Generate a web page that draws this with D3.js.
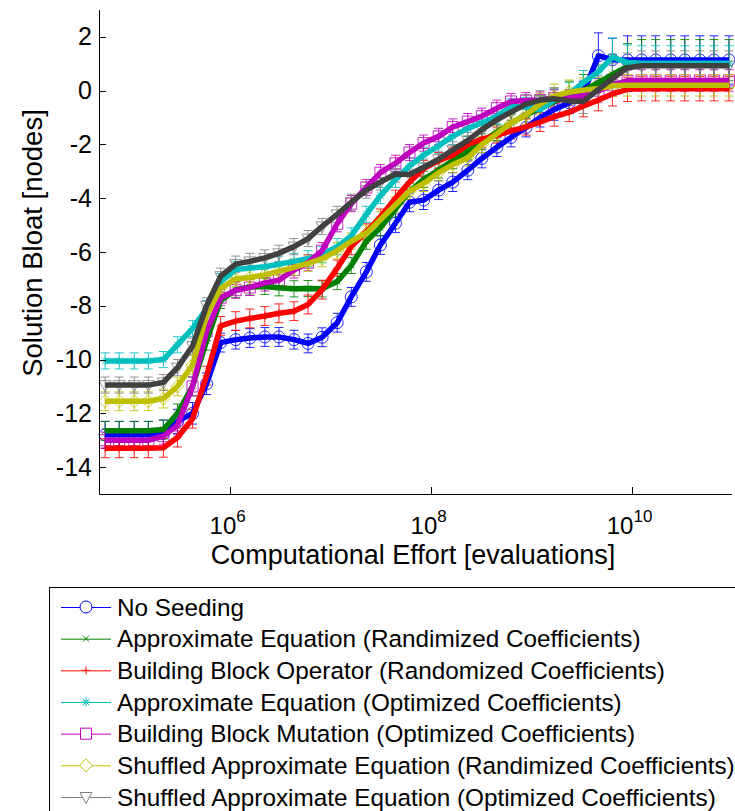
<!DOCTYPE html>
<html>
<head>
<meta charset="utf-8">
<script src="https://cdn.jsdelivr.net/npm/d3@7"></script>
<style>
  html, body { margin: 0; padding: 0; background: #fff; }
  svg { display: block; font-family: "Liberation Sans", Arial, sans-serif; }
</style>
</head>
<body>
<svg id="chart" width="735" height="811"></svg>
<script>
// log10 of the computational effort at each sample
const logEvals = [4.76, 4.90, 5.05, 5.19, 5.34, 5.48, 5.63, 5.77, 5.91, 6.06,
  6.20, 6.35, 6.49, 6.64, 6.78, 6.92, 7.07, 7.21, 7.36, 7.50,
  7.65, 7.79, 7.93, 8.08, 8.22, 8.37, 8.51, 8.66, 8.80, 8.95,
  9.09, 9.23, 9.38, 9.52, 9.67, 9.81, 9.96, 10.10, 10.24, 10.39,
  10.53, 10.68, 10.82, 10.97];

const seriesNames = [
  "No Seeding",
  "Approximate Equation (Randimized Coefficients)",
  "Building Block Operator (Randomized Coefficients)",
  "Approximate Equation (Optimized Coefficients)",
  "Building Block Mutation (Optimized Coefficients)",
  "Shuffled Approximate Equation (Randimized Coefficients)",
  "Shuffled Approximate Equation (Optimized Coefficients)"
];

const noSeeding = [-12.8, -12.8, -12.8, -12.8, -12.75, -12.3, -12.0, -10.9, -9.37, -9.26,
  -9.2, -9.16, -9.16, -9.26, -9.4, -9.17, -8.63, -7.67, -6.74, -5.74,
  -4.93, -4.15, -4.07, -3.7, -3.4, -2.96, -2.52, -2.1, -1.74, -1.37,
  -1.0, -0.7, -0.45, -0.1, 1.3, 1.15, 1.14, 1.14, 1.14, 1.14,
  1.14, 1.14, 1.14, 1.14];
const approxRand = [-12.65, -12.65, -12.65, -12.65, -12.6, -12.0, -11.0, -9.3, -7.8, -7.4,
  -7.3, -7.28, -7.33, -7.37, -7.36, -7.37, -7.1, -6.5, -5.6, -5.1,
  -4.4, -3.75, -3.3, -2.95, -2.6, -2.25, -1.9, -1.55, -1.2, -0.9,
  -0.65, -0.4, -0.2, 0.0, 0.3, 0.6, 0.9, 1.0, 1.0, 1.0,
  1.0, 1.0, 1.0, 1.0];
const bbOperator = [-13.3, -13.3, -13.3, -13.3, -13.28, -12.9, -12.2, -10.6, -8.75, -8.57,
  -8.47, -8.38, -8.28, -8.2, -7.95, -7.4, -6.6, -5.8, -5.25, -4.7,
  -4.0, -3.4, -2.9, -2.6, -2.4, -2.0, -1.8, -1.65, -1.5, -1.35,
  -1.17, -0.97, -0.8, -0.57, -0.35, -0.12, 0.05, 0.07, 0.07, 0.07,
  0.07, 0.07, 0.07, 0.07];
const approxOpt = [-10.05, -10.05, -10.05, -10.05, -10.0, -9.45, -8.85, -8.1, -7.1, -6.65,
  -6.6, -6.55, -6.45, -6.35, -6.25, -6.1, -5.8, -5.4, -4.6, -3.9,
  -3.3, -2.8, -2.4, -2.05, -1.7, -1.4, -1.2, -0.95, -0.6, -0.6,
  -0.7, -0.35, -0.1, 0.3, 0.7, 1.25, 1.05, 1.02, 1.02, 1.02,
  1.02, 1.02, 1.02, 1.02];
const bbMutation = [-13.0, -13.0, -13.0, -13.0, -12.85, -12.45, -11.0, -8.95, -7.7, -7.42,
  -7.32, -7.15, -7.05, -6.67, -6.4, -5.95, -4.95, -4.2, -3.6, -3.05,
  -2.7, -2.3, -1.95, -1.7, -1.35, -1.15, -0.95, -0.65, -0.4, -0.37,
  -0.35, -0.27, -0.26, -0.18, 0.0, 0.2, 0.37, 0.38, 0.38, 0.38,
  0.38, 0.38, 0.38, 0.38];
const shuffledRand = [-11.55, -11.55, -11.55, -11.55, -11.45, -11.0, -10.2, -8.35, -7.35, -7.0,
  -6.95, -6.85, -6.72, -6.57, -6.42, -6.25, -5.95, -5.6, -5.3, -4.8,
  -4.25, -3.75, -3.45, -3.05, -2.75, -2.5, -2.0, -1.6, -1.2, -0.9,
  -0.5, -0.2, -0.05, 0.02, 0.08, 0.18, 0.2, 0.2, 0.2, 0.2,
  0.2, 0.2, 0.2, 0.2];
const shuffledOpt = [-10.95, -10.95, -10.95, -10.95, -10.85, -10.3, -9.5, -8.0, -6.9, -6.45,
  -6.35, -6.22, -6.05, -5.8, -5.5, -5.05, -4.6, -4.15, -3.7, -3.4,
  -3.1, -3.12, -2.85, -2.55, -2.2, -1.85, -1.45, -1.08, -0.8, -0.5,
  -0.35, -0.3, -0.38, -0.4, 0.05, 0.45, 0.85, 0.93, 0.93, 0.93,
  0.93, 0.93, 0.93, 0.93];

// standard errors (half-length of each error bar)
const errNoSeeding = [0.5, 0.5, 0.5, 0.5, 0.5, 0.45, 0.4, 0.4, 0.35, 0.35,
  0.35, 0.35, 0.35, 0.35, 0.35, 0.35, 0.35, 0.35, 0.35, 0.35,
  0.35, 0.35, 0.35, 0.35, 0.35, 0.35, 0.35, 0.35, 0.35, 0.35,
  0.35, 0.4, 0.4, 0.45, 0.85, 0.8, 0.9, 0.9, 0.9, 0.9,
  0.9, 0.9, 0.9, 0.9];
const errApproxRand = [0.35, 0.35, 0.35, 0.35, 0.35, 0.35, 0.35, 0.35, 0.3, 0.3,
  0.3, 0.3, 0.3, 0.3, 0.3, 0.3, 0.3, 0.3, 0.3, 0.3,
  0.3, 0.3, 0.3, 0.3, 0.3, 0.3, 0.3, 0.3, 0.35, 0.4,
  0.45, 0.5, 0.55, 0.6, 0.65, 0.75, 0.85, 0.9, 0.9, 0.9,
  0.9, 0.9, 0.9, 0.9];
const errBbOperator = [0.35, 0.35, 0.35, 0.35, 0.35, 0.35, 0.35, 0.35, 0.35, 0.35,
  0.35, 0.35, 0.35, 0.35, 0.35, 0.35, 0.3, 0.3, 0.3, 0.3,
  0.3, 0.3, 0.3, 0.3, 0.3, 0.3, 0.3, 0.3, 0.3, 0.3,
  0.35, 0.35, 0.35, 0.4, 0.4, 0.45, 0.45, 0.45, 0.45, 0.45,
  0.45, 0.45, 0.45, 0.45];
const errApproxOpt = [0.3, 0.3, 0.3, 0.3, 0.3, 0.3, 0.3, 0.3, 0.3, 0.3,
  0.3, 0.3, 0.3, 0.3, 0.3, 0.3, 0.3, 0.3, 0.3, 0.3,
  0.3, 0.3, 0.3, 0.3, 0.3, 0.3, 0.3, 0.3, 0.3, 0.35,
  0.35, 0.4, 0.4, 0.45, 0.5, 0.7, 0.65, 0.65, 0.65, 0.65,
  0.65, 0.65, 0.65, 0.65];
const errBbMutation = [0.3, 0.3, 0.3, 0.3, 0.3, 0.35, 0.35, 0.35, 0.3, 0.3,
  0.3, 0.3, 0.3, 0.3, 0.3, 0.3, 0.3, 0.3, 0.3, 0.3,
  0.3, 0.3, 0.3, 0.3, 0.3, 0.3, 0.3, 0.3, 0.3, 0.3,
  0.3, 0.3, 0.3, 0.35, 0.35, 0.4, 0.4, 0.4, 0.4, 0.4,
  0.4, 0.4, 0.4, 0.4];
const errShuffledRand = [0.35, 0.35, 0.35, 0.35, 0.35, 0.35, 0.35, 0.3, 0.3, 0.3,
  0.3, 0.3, 0.3, 0.3, 0.3, 0.3, 0.3, 0.3, 0.3, 0.3,
  0.3, 0.3, 0.3, 0.3, 0.3, 0.3, 0.3, 0.3, 0.3, 0.35,
  0.4, 0.45, 0.45, 0.45, 0.4, 0.4, 0.4, 0.4, 0.4, 0.4,
  0.4, 0.4, 0.4, 0.4];
const errShuffledOpt = [0.3, 0.3, 0.3, 0.3, 0.3, 0.3, 0.3, 0.3, 0.3, 0.3,
  0.3, 0.3, 0.3, 0.3, 0.3, 0.3, 0.3, 0.3, 0.3, 0.3,
  0.3, 0.3, 0.3, 0.3, 0.3, 0.3, 0.3, 0.3, 0.3, 0.35,
  0.35, 0.4, 0.4, 0.45, 0.5, 0.55, 0.55, 0.55, 0.55, 0.55,
  0.55, 0.55, 0.55, 0.55];

const yTicks = [-14, -12, -10, -8, -6, -4, -2, 0, 2];
const xTickExponents = [6, 8, 10];

// line colour, error-bar/marker colour and marker kind per series
const seriesStyle = [
  { line: "#0000ff", mark: "#0000ff", marker: "circle" },
  { line: "#008000", mark: "#008000", marker: "x" },
  { line: "#ff0000", mark: "#ff0000", marker: "plus" },
  { line: "#00bfbf", mark: "#00bfbf", marker: "star" },
  { line: "#bf00bf", mark: "#bf00bf", marker: "square" },
  { line: "#bfbf00", mark: "#bfbf00", marker: "diamond" },
  { line: "#404040", mark: "#808080", marker: "triangle" }
];

const seriesValues = [noSeeding, approxRand, bbOperator, approxOpt, bbMutation, shuffledRand, shuffledOpt];
const seriesErrors = [errNoSeeding, errApproxRand, errBbOperator, errApproxOpt, errBbMutation, errShuffledRand, errShuffledOpt];

const series = seriesNames.map((name, i) => ({
  name,
  style: seriesStyle[i],
  points: logEvals.map((le, k) => ({ x: Math.pow(10, le), y: seriesValues[i][k], e: seriesErrors[i][k] }))
}));

const svg = d3.select("#chart");
const plot = { left: 99, right: 732, top: 10, bottom: 494 };

const x = d3.scaleLog().domain([5e4, 1e11]).range([plot.left, plot.right]);
const y = d3.scaleLinear().domain([-15, 3]).range([plot.bottom, plot.top]);

function markerPath(kind, cx, cy) {
  const p = d3.path();
  switch (kind) {
    case "circle":
      p.moveTo(cx + 6, cy); p.arc(cx, cy, 6, 0, 2 * Math.PI); break;
    case "x":
      p.moveTo(cx - 3, cy - 3); p.lineTo(cx + 3, cy + 3);
      p.moveTo(cx - 3, cy + 3); p.lineTo(cx + 3, cy - 3); break;
    case "plus":
      p.moveTo(cx - 4, cy); p.lineTo(cx + 4, cy);
      p.moveTo(cx, cy - 4); p.lineTo(cx, cy + 4); break;
    case "star":
      p.moveTo(cx - 4.5, cy); p.lineTo(cx + 4.5, cy);
      p.moveTo(cx, cy - 4.5); p.lineTo(cx, cy + 4.5);
      p.moveTo(cx - 3.3, cy - 3.3); p.lineTo(cx + 3.3, cy + 3.3);
      p.moveTo(cx - 3.3, cy + 3.3); p.lineTo(cx + 3.3, cy - 3.3); break;
    case "square":
      p.rect(cx - 5.5, cy - 5.5, 11, 11); break;
    case "diamond":
      p.moveTo(cx, cy - 6.5); p.lineTo(cx + 6.5, cy); p.lineTo(cx, cy + 6.5); p.lineTo(cx - 6.5, cy); p.closePath(); break;
    case "triangle":
      p.moveTo(cx - 6, cy - 4.5); p.lineTo(cx + 6, cy - 4.5); p.lineTo(cx, cy + 6.5); p.closePath(); break;
  }
  return p.toString();
}

// error bars and markers
const marks = svg.append("g").attr("fill", "none").attr("stroke-width", 1);
series.forEach(s => {
  const g = marks.append("g").attr("stroke", s.style.mark).attr("stroke-opacity", 0.85);
  g.selectAll("path.err").data(s.points).join("path")
    .attr("class", "err")
    .attr("d", d => {
      const px = x(d.x), y0 = y(d.y - d.e), y1 = y(d.y + d.e);
      return `M${px},${y0}V${y1}M${px - 4.5},${y0}H${px + 4.5}M${px - 4.5},${y1}H${px + 4.5}`;
    });
  g.selectAll("path.mk").data(s.points).join("path")
    .attr("class", "mk")
    .attr("d", d => markerPath(s.style.marker, x(d.x), y(d.y)));
});

// thick mean lines
const line = d3.line().x(d => x(d.x)).y(d => y(d.y));
const lines = svg.append("g").attr("fill", "none");
series.forEach(s => {
  lines.append("path")
    .attr("d", line(s.points))
    .attr("stroke", s.style.line)
    .attr("stroke-width", 5.5)
    .attr("stroke-linejoin", "round");
});

// axes
const axes = svg.append("g").attr("stroke", "#000").attr("fill", "none").attr("stroke-width", 1);
axes.append("path").attr("d", `M${plot.left + 0.5},${plot.top}V${plot.bottom + 0.5}H${plot.right}`);
axes.selectAll("path.yt").data(yTicks).join("path")
  .attr("class", "yt")
  .attr("d", t => `M${plot.left},${Math.round(y(t)) + 0.5}h7`);
axes.selectAll("path.xt").data(xTickExponents).join("path")
  .attr("class", "xt")
  .attr("d", t => `M${Math.round(x(Math.pow(10, t))) + 0.5},${plot.bottom}v-7`);

svg.append("g").attr("font-size", 25).attr("text-anchor", "end").attr("fill", "#000")
  .selectAll("text").data(yTicks).join("text")
  .attr("x", plot.left - 7)
  .attr("y", t => y(t) + 8.5)
  .text(t => t);

const xt = svg.append("g").attr("fill", "#000").attr("text-anchor", "middle")
  .selectAll("text").data(xTickExponents).join("text")
  .attr("x", t => x(Math.pow(10, t)) - 2)
  .attr("y", 534)
  .attr("font-size", 24);
xt.append("tspan").text("10");
xt.append("tspan").attr("dy", -12).attr("font-size", 17).text(t => t);

svg.append("text")
  .attr("x", 413)
  .attr("y", 564)
  .attr("text-anchor", "middle")
  .attr("font-size", 27)
  .text("Computational Effort [evaluations]");

svg.append("text")
  .attr("transform", "translate(42,243) rotate(-90)")
  .attr("text-anchor", "middle")
  .attr("font-size", 27.5)
  .text("Solution Bloat [nodes]");

// legend
const legend = svg.append("g");
legend.append("rect")
  .attr("x", 49.5).attr("y", 587.5).attr("width", 720).attr("height", 240)
  .attr("fill", "#fff").attr("stroke", "#000").attr("stroke-width", 1);
const rowY = d3.scalePoint().domain(d3.range(seriesNames.length)).range([607, 797]);
series.forEach((s, i) => {
  const cy = rowY(i);
  const row = legend.append("g");
  row.append("path").attr("d", `M61,${cy + 0.5}H111`).attr("stroke", s.style.mark).attr("stroke-width", 1);
  row.append("path").attr("d", markerPath(s.style.marker, 86, cy))
    .attr("stroke", s.style.mark).attr("fill", "#fff").attr("stroke-width", 1);
  row.append("text").attr("x", 117).attr("y", cy + 8.5).attr("font-size", 24.3).attr("fill", "#000").text(s.name);
});
</script>
</body>
</html>
